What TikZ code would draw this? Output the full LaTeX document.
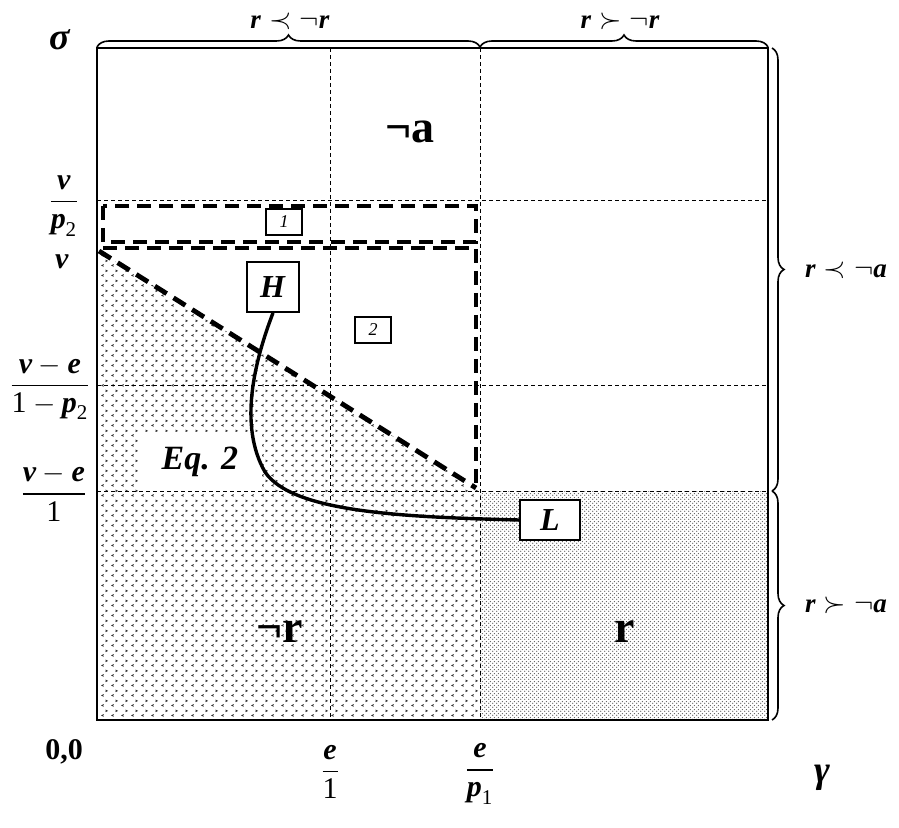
\documentclass[tikz,border=0pt]{standalone}
\usepackage{amsmath}
\usepackage{fontspec}
\setmainfont{Liberation Serif}
\usetikzlibrary{patterns,decorations.pathreplacing,calc}

% small < > marks for the lower left area
\pgfdeclarepatternformonly{chevrons}{\pgfpointorigin}{\pgfpoint{5pt}{5pt}}{\pgfpoint{5pt}{5pt}}{
  \pgfsetlinewidth{0.4pt}
  \pgfpathmoveto{\pgfpoint{2pt}{1.9pt}}\pgfpathlineto{\pgfpoint{1pt}{1.4pt}}\pgfpathlineto{\pgfpoint{2pt}{0.9pt}}
  \pgfpathmoveto{\pgfpoint{3pt}{4.4pt}}\pgfpathlineto{\pgfpoint{4pt}{3.9pt}}\pgfpathlineto{\pgfpoint{3pt}{3.4pt}}
  \pgfusepath{stroke}}
% dense dots for the lower right area
\pgfdeclarepatternformonly{finedots}{\pgfpointorigin}{\pgfpoint{2pt}{2pt}}{\pgfpoint{2pt}{2pt}}{
  \pgfpathcircle{\pgfpoint{0.5pt}{0.5pt}}{0.38pt}
  \pgfpathcircle{\pgfpoint{1.5pt}{1.5pt}}{0.38pt}
  \pgfusepath{fill}}

\newcommand{\bi}[1]{\textbf{\textit{#1}}}

\begin{document}
\begin{tikzpicture}[x=0.5pt,y=-0.5pt,
  grid/.style={dash pattern=on 2pt off 1.5pt,line width=0.5pt},
  bound/.style={dash pattern=on 7pt off 4pt,line width=2.4pt},
  tag/.style={draw,fill=white,line width=0.9pt,minimum width=18pt,minimum height=13pt,inner sep=1pt,font=\fontsize{9}{10}\selectfont\itshape},
  point/.style={draw,fill=white,line width=0.9pt,minimum width=26pt,minimum height=25pt,font=\fontsize{16}{18}\selectfont},
  axis/.style={font=\fontsize{15}{17}\selectfont},
  side/.style={inner sep=0pt,font=\fontsize{13.5}{15}\selectfont},
  region/.style={font=\fontsize{23}{25}\selectfont\bfseries},
  brc/.style={decorate,decoration={brace,amplitude=6pt},line width=0.8pt},
  edge/.style={line width=1.7pt}]
\useasboundingbox (0,0) rectangle (899,828);

% shaded areas
\fill[pattern=chevrons,pattern color=black!80] (97,250) -- (480,491) -- (480,720) -- (97,720) -- cycle;
\fill[pattern=finedots,pattern color=black!65] (480,491) rectangle (768,720);
\node[fill=white,minimum width=62pt,minimum height=30pt,font=\fontsize{17}{19}\selectfont] (eq) at (200,462) {\bi{Eq. 2}};

% grid
\draw[grid] (330,48) -- (330,720);
\draw[grid] (480,48) -- (480,720);
\draw[grid] (97,201) -- (768,201);
\draw[grid] (97,386) -- (768,386);
\draw[grid] (97,491) -- (768,491);

% dashed regions 1 and 2
\draw[bound] (103,206) rectangle (476,242);
\draw[bound] (103,248) -- (476,248) -- (476,488);
\draw[bound] (99,251) -- (476,488);

\draw[line width=1pt] (97,48) rectangle (768,720);

% braces
\draw[brc] (97,47) -- (480,47);
\draw[brc] (480,47) -- (768,47);
\draw[brc] (772,48) -- (772,491);
\draw[brc] (772,491) -- (772,720);
\node[side] (lowr) at (290,21) {$\bi{r}\prec\neg\bi{r}$};
\node[side] (highr) at (620,21) {$\bi{r}\succ\neg\bi{r}$};
\node[side] (lowa) at (846,270) {$\bi{r}\prec\neg\bi{a}$};
\node[side] (higha) at (846,605) {$\bi{r}\succ\neg\bi{a}$};

% axis labels
\node[font=\fontsize{19}{21}\selectfont] (sigma) at (60,40) {\bi{σ}};
\node[font=\fontsize{19}{21}\selectfont] (gamma) at (822,778) {\bi{γ}};
\node[axis] (origin) at (64,752) {\textbf{0,0}};
\node[axis] (vp2) at (64,206) {$\dfrac{\bi{v}}{\bi{p}_{\text{2}}}$};
\node[axis] (vv) at (62,262) {\bi{v}};
\node[axis] (vep2) at (50,388) {$\dfrac{\bi{v}-\bi{e}}{\text{1}-\bi{p}_{\text{2}}}$};
\node[axis] (ve1) at (54,493) {$\dfrac{\bi{v}-\bi{e}}{\text{1}}$};
\node[axis] (e1) at (330,772) {$\dfrac{\bi{e}}{\text{1}}$};
\node[axis] (ep1) at (480,774) {$\dfrac{\bi{e}}{\bi{p}_{\text{1}}}$};

% region labels
\node[region] (nota) at (410,132) {¬a};
\node[region] (notr) at (280,632) {¬r};
\node[region] (rr) at (625,632) {r};

% boxes and path
\node[tag] (one) at (284,222) {1};
\node[tag] (two) at (373,330) {2};
\node[point] (H) at (273,287) {\bi{H}};
\node[point,minimum width=30pt,minimum height=20pt] (L) at (550,520) {\bi{L}};
\draw[edge] (H.south) .. controls (255,360) and (238,425) .. (265,472)
  .. controls (292,512) and (400,517) .. (L.west);
\end{tikzpicture}
\end{document}
